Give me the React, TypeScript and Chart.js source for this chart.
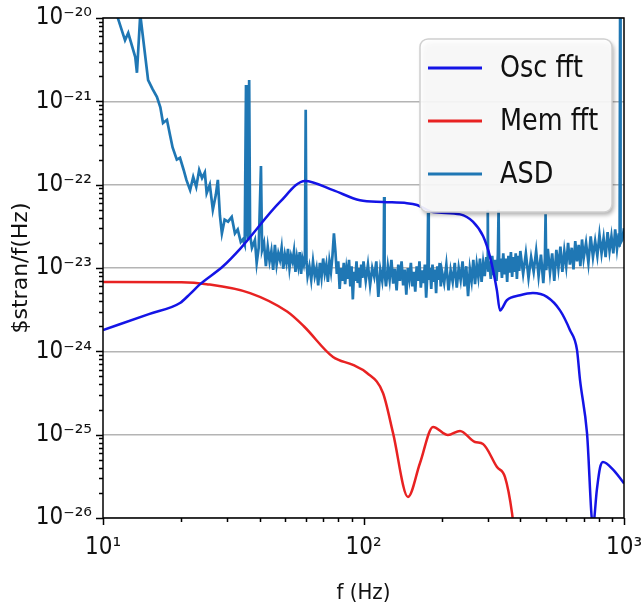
import React, { useEffect, useRef } from 'react';
import { Chart, registerables } from 'chart.js';

Chart.register(...registerables);

// ---- data: [frequency (Hz), amplitude] ----
const oscFft: [number, number][] = [
  [10, 1.8e-24], [15, 2.8e-24], [19.75, 3.8e-24], [21.6, 4.9e-24], [23.6, 6.4e-24],
  [28.9, 1.05e-23], [33.6, 1.7e-23], [47.8, 6.2e-23], [59.6, 1.11e-22], [76.4, 8.6e-23],
  [96.9, 6.5e-23], [118.8, 6.2e-23], [146.9, 6.0e-23], [160.5, 5.7e-23], [185, 4.7e-23],
  [235, 4.4e-23], [263, 3.6e-23], [288, 2.4e-23], [306, 1.36e-23], [325, 5.45e-24],
  [334, 3.1e-24], [355, 4.1e-24], [399, 4.7e-24], [447, 5.0e-24], [506, 4.5e-24],
  [568, 3.1e-24], [620, 1.8e-24], [660, 1.04e-24], [678, 4.5e-25], [721, 1.05e-25],
  [760, 8e-27], [787, 2.2e-26], [809, 4.0e-26], [830, 4.7e-26], [908, 3.8e-26],
  [991, 2.7e-26], [1000, 2.6e-26],
];

const memFft: [number, number][] = [
  [10, 6.8e-24], [20, 6.75e-24], [25, 6.4e-24], [36.7, 5.0e-24], [50.9, 3.0e-24],
  [59, 2.0e-24], [76.4, 8.55e-25], [91.1, 6.86e-25], [103.1, 5.5e-25], [118.8, 3.16e-25],
  [129.8, 1.05e-25], [148.2, 1.79e-26], [164.8, 4.57e-26], [184.9, 1.24e-25], [211, 9.9e-26],
  [234.7, 1.11e-25], [267.9, 8.17e-26], [287.6, 7.73e-26], [325.5, 4.09e-26], [349.3, 3.1e-26],
  [371.6, 1.15e-26], [380, 6e-27],
];

const asd: [number, number][] = [
  [10, 4e-20], [10.8, 2.5e-20], [11.4, 1.0e-20], [12.15, 5.4e-21], [12.5, 6.6e-21],
  [13.3, 3.4e-21], [13.5, 2.2e-21], [13.9, 1.1e-20], [14.9, 1.8e-21], [15.5, 1.4e-21],
  [16.1, 1.13e-21], [16.6, 8.5e-22], [17.0, 5.5e-22], [17.6, 6.0e-22], [18.1, 3.9e-22],
  [18.5, 2.8e-22], [19.2, 2.0e-22], [19.75, 2.1e-22], [20.4, 1.5e-22], [20.9, 1.14e-22],
  [21.6, 8.6e-23], [22.2, 1.24e-22], [22.8, 9.4e-23], [23.4, 1.5e-22], [24.0, 1.2e-22],
  [24.6, 1.4e-22], [25.0, 7.9e-23], [25.7, 1.0e-22], [26.4, 5.0e-23], [27.1, 7.5e-23],
  [27.6, 1.14e-22], [28.1, 4.3e-23], [28.6, 2.6e-23], [29.3, 3.8e-23], [30.2, 3.6e-23],
  [31.2, 4.1e-23], [32.1, 2.6e-23], [32.9, 2.9e-23], [33.8, 2.05e-23], [34.4, 2.2e-23],
  [35.0, 1.9e-23], [35.4, 1.57e-21], [35.7, 2.9e-23], [36.0, 2.2e-23], [36.4, 1.8e-21],
  [36.7, 2.5e-23], [37.3, 1.75e-23], [38.3, 2.17e-23], [38.9, 1.15e-23], [39.6, 1.75e-23],
  [40.4, 1.67e-22], [40.8, 1.64e-23], [41.5, 2.0e-23], [42.2, 1.05e-23], [42.9, 1.8e-23],
  [43.6, 1.2e-23], [44.3, 1.6e-23], [45.0, 9.5e-24], [45.7, 1.9e-23], [46.4, 1.1e-23],
  [47.1, 1.5e-23], [47.8, 1.25e-23], [48.5, 1.75e-23], [49.2, 9.8e-24], [49.9, 1.45e-23],
  [50.6, 1.15e-23], [51.3, 1.7e-23], [52.0, 1.0e-23], [52.7, 1.4e-23], [53.4, 1.2e-23],
  [54.1, 1.6e-23], [54.8, 9.0e-24], [55.5, 1.35e-23], [56.2, 1.05e-23], [56.9, 1.55e-23],
  [57.6, 8.5e-24], [58.3, 1.3e-23], [59.0, 1.1e-23], [59.6, 1.4e-23], [60.0, 7.9e-22],
  [60.4, 1.2e-23], [61, 8.0e-24], [62, 1.05e-23], [63, 7.2e-24], [64, 1.2e-23],
  [65, 8.0e-24], [66, 1.0e-23], [67, 6.2e-24], [68, 1.15e-23], [69, 7.8e-24],
  [70, 1.3e-23], [71, 8.6e-24], [72, 1.1e-23], [73, 6.8e-24], [74, 1.2e-23],
  [75, 9.0e-24], [76, 1.4e-23], [77, 2.6e-23], [78, 1.6e-23], [79, 8.5e-24],
  [80, 1.2e-23], [81, 5.6e-24], [82, 1.0e-23], [83, 7.0e-24], [84, 1.15e-23],
  [85, 6.4e-24], [86, 9.8e-24], [87, 7.4e-24], [88, 1.25e-23], [89, 6.0e-24],
  [90, 1.05e-23], [91, 4.2e-24], [92, 9.0e-24], [93, 7.0e-24], [94, 1.2e-23],
  [95, 6.6e-24], [96, 1.0e-23], [97, 5.8e-24], [98, 1.1e-23], [99, 7.6e-24],
  [100, 1.2e-23], [102, 7.0e-24], [104, 1.1e-23], [106, 6.2e-24], [108, 1.0e-23],
  [110, 7.8e-24], [112, 1.2e-23], [114, 4.5e-24], [116, 9.5e-24], [118, 7.0e-24],
  [119.5, 1.1e-23], [120, 7.1e-23], [120.5, 9.0e-24], [122, 6.0e-24], [124, 1.05e-23],
  [126, 7.2e-24], [128, 1.25e-23], [130, 6.5e-24], [132, 9.8e-24], [134, 5.4e-24],
  [136, 1.1e-23], [138, 7.0e-24], [140, 1.2e-23], [142, 6.2e-24], [144, 9.6e-24],
  [146, 4.8e-24], [148, 1.0e-23], [150, 7.4e-24], [152, 1.15e-23], [154, 6.0e-24],
  [156, 9.0e-24], [158, 5.2e-24], [160, 1.05e-23], [162, 7.0e-24], [164, 1.2e-23],
  [166, 5.8e-24], [168, 9.4e-24], [170, 6.6e-24], [172, 1.1e-23], [174, 4.4e-24],
  [176, 8.8e-24], [177, 4.6e-23], [178, 7.2e-24], [180, 1.0e-23], [182, 5.6e-24],
  [184, 1.1e-23], [186, 6.8e-24], [188, 9.6e-24], [190, 5.0e-24], [192, 1.05e-23],
  [194, 7.2e-24], [196, 1.15e-23], [198, 6.0e-24], [200, 9.2e-24], [204, 6.6e-24],
  [208, 1.1e-23], [212, 5.4e-24], [216, 9.4e-24], [220, 6.8e-24], [224, 1.15e-23],
  [228, 5.8e-24], [232, 1.0e-23], [236, 7.2e-24], [240, 1.2e-23], [244, 6.0e-24],
  [248, 1.05e-23], [252, 4.6e-24], [256, 9.8e-24], [260, 7.0e-24], [264, 1.25e-23],
  [268, 6.4e-24], [272, 1.1e-23], [276, 7.8e-24], [280, 1.3e-23], [284, 6.8e-24],
  [288, 1.15e-23], [292, 8.0e-24], [296, 1.35e-23], [299, 1.0e-23], [300, 5.0e-23],
  [301, 9.0e-24], [304, 1.2e-23], [308, 7.4e-24], [312, 1.4e-23], [316, 8.2e-24],
  [320, 1.25e-23], [324, 7.0e-24], [328, 1.45e-23], [330, 5.0e-23], [332, 9.0e-24],
  [336, 1.3e-23], [340, 7.6e-24], [344, 1.5e-23], [348, 8.4e-24], [352, 1.3e-23],
  [356, 6.8e-24], [360, 1.4e-23], [364, 8.8e-24], [368, 1.55e-23], [372, 7.8e-24],
  [376, 1.35e-23], [380, 9.0e-24], [384, 1.5e-23], [388, 7.4e-24], [392, 1.4e-23],
  [396, 9.2e-24], [400, 1.6e-23], [410, 8.5e-24], [420, 1.5e-23], [430, 7.6e-24],
  [440, 1.35e-23], [450, 9.0e-24], [460, 1.6e-23], [470, 8.0e-24], [480, 1.45e-23],
  [490, 6.6e-24], [497, 1.3e-23], [500, 4.4e-23], [503, 9.4e-24], [510, 1.7e-23],
  [520, 8.8e-24], [530, 1.5e-23], [540, 7.0e-24], [550, 1.65e-23], [560, 1.0e-23],
  [570, 1.8e-23], [580, 9.0e-24], [590, 1.6e-23], [600, 1.05e-23], [610, 2.0e-23],
  [620, 1.1e-23], [630, 1.75e-23], [640, 9.6e-24], [650, 2.1e-23], [660, 1.2e-23],
  [670, 1.9e-23], [680, 1.05e-23], [690, 2.2e-23], [700, 1.3e-23], [715, 2.0e-23],
  [730, 1.15e-23], [745, 2.4e-23], [760, 1.35e-23], [775, 2.1e-23], [790, 1.4e-23],
  [805, 2.5e-23], [820, 1.5e-23], [835, 2.3e-23], [850, 1.35e-23], [865, 2.7e-23],
  [880, 1.6e-23], [895, 2.4e-23], [910, 1.5e-23], [925, 2.9e-23], [940, 1.7e-23],
  [955, 2.6e-23], [962, 1.8e-23], [966, 1.0e-20], [970, 2.0e-23], [985, 2.2e-23],
  [1000, 3.0e-23],
];

const seriesLabels = ['Osc fft', 'Mem fft', 'ASD'];
const seriesColors = ['#1414e6', '#e82222', '#1f77b4'];

const xTickValues = [10, 100, 1000];
const xTickLabels = ['10¹', '10²', '10³'];
const yTickValues = [1e-26, 1e-25, 1e-24, 1e-23, 1e-22, 1e-21, 1e-20];
const yTickLabels = ['10⁻²⁶', '10⁻²⁵', '10⁻²⁴', '10⁻²³', '10⁻²²', '10⁻²¹', '10⁻²⁰'];
const minorMultipliers = [2, 3, 4, 5, 6, 7, 8, 9];

const xTitle = 'f (Hz)';
const yTitle = '$stran/f(Hz)';

const TICK_FONT = "'DejaVu Sans Condensed', 'DejaVu Sans', sans-serif";

const axisDecor = {
  id: 'axisDecor',
  afterDraw(chart: any) {
    const { ctx, chartArea: a, scales } = chart;
    const x = scales.x;
    const y = scales.y;
    ctx.save();
    ctx.strokeStyle = '#000';
    ctx.lineWidth = 1.5;
    ctx.strokeRect(a.left, a.top, a.right - a.left, a.bottom - a.top);
    ctx.beginPath();
    xTickValues.forEach((v) => {
      const px = Math.round(x.getPixelForValue(v)) + 0.5;
      ctx.moveTo(px, a.bottom);
      ctx.lineTo(px, a.bottom + 7);
    });
    xTickValues.slice(0, -1).forEach((d) => {
      minorMultipliers.forEach((m) => {
        const px = Math.round(x.getPixelForValue(d * m)) + 0.5;
        ctx.moveTo(px, a.bottom);
        ctx.lineTo(px, a.bottom + 4);
      });
    });
    yTickValues.forEach((v) => {
      const py = Math.round(y.getPixelForValue(v)) + 0.5;
      ctx.moveTo(a.left, py);
      ctx.lineTo(a.left - 7, py);
    });
    yTickValues.slice(0, -1).forEach((d) => {
      minorMultipliers.forEach((m) => {
        const py = Math.round(y.getPixelForValue(d * m)) + 0.5;
        ctx.moveTo(a.left, py);
        ctx.lineTo(a.left - 4, py);
      });
    });
    ctx.stroke();
    ctx.restore();
  },
};

const boxLegend = {
  id: 'boxLegend',
  afterDraw(chart: any) {
    const { ctx, chartArea: a } = chart;
    const bw = 192;
    const bh = 173;
    const bx = a.right - 12 - bw;
    const by = a.top + 21;
    const r = 8;
    ctx.save();
    const path = () => {
      ctx.beginPath();
      ctx.moveTo(bx + r, by);
      ctx.lineTo(bx + bw - r, by);
      ctx.arcTo(bx + bw, by, bx + bw, by + r, r);
      ctx.lineTo(bx + bw, by + bh - r);
      ctx.arcTo(bx + bw, by + bh, bx + bw - r, by + bh, r);
      ctx.lineTo(bx + r, by + bh);
      ctx.arcTo(bx, by + bh, bx, by + bh - r, r);
      ctx.lineTo(bx, by + r);
      ctx.arcTo(bx, by, bx + r, by, r);
      ctx.closePath();
    };
    ctx.shadowColor = 'rgba(0,0,0,0.35)';
    ctx.shadowBlur = 4;
    ctx.shadowOffsetX = 2;
    ctx.shadowOffsetY = 3;
    path();
    ctx.fillStyle = 'rgba(255,255,255,0.9)';
    ctx.fill();
    ctx.shadowColor = 'transparent';
    ctx.strokeStyle = '#d0d0d0';
    ctx.lineWidth = 1.5;
    path();
    ctx.stroke();
    seriesLabels.forEach((label, i) => {
      const cy = by + 29 + i * 53;
      ctx.strokeStyle = seriesColors[i];
      ctx.lineWidth = 3;
      ctx.beginPath();
      ctx.moveTo(bx + 8, cy);
      ctx.lineTo(bx + 62, cy);
      ctx.stroke();
      ctx.save();
      ctx.translate(bx + 80, cy + 1);
      ctx.scale(0.85, 1);
      ctx.fillStyle = '#111';
      ctx.font = "30px 'DejaVu Sans', sans-serif";
      ctx.textBaseline = 'middle';
      ctx.textAlign = 'left';
      ctx.fillText(label, 0, 0);
      ctx.restore();
    });
    ctx.restore();
  },
};

export default function App() {
  const ref = useRef<HTMLCanvasElement | null>(null);
  useEffect(() => {
    if (!ref.current) return;
    const toPts = (arr: [number, number][]) => arr.map(([x, y]) => ({ x, y }));
    const chart = new Chart(ref.current, {
      type: 'line',
      data: {
        datasets: [
          {
            label: seriesLabels[0],
            data: toPts(oscFft),
            borderColor: seriesColors[0],
            borderWidth: 2.5,
            pointRadius: 0,
            cubicInterpolationMode: 'monotone',
          },
          {
            label: seriesLabels[1],
            data: toPts(memFft),
            borderColor: seriesColors[1],
            borderWidth: 2.5,
            pointRadius: 0,
            cubicInterpolationMode: 'monotone',
          },
          {
            label: seriesLabels[2],
            data: toPts(asd),
            borderColor: seriesColors[2],
            borderWidth: 2.7,
            pointRadius: 0,
            tension: 0,
          },
        ],
      },
      options: {
        animation: false,
        responsive: false,
        devicePixelRatio: 1,
        layout: { padding: { top: 18, right: 17, left: 0, bottom: 0 } },
        plugins: { legend: { display: false }, tooltip: { enabled: false } },
        scales: {
          x: {
            type: 'logarithmic',
            position: 'bottom',
            min: 10,
            max: 1000,
            afterBuildTicks: (s: any) => {
              s.ticks = xTickValues.map((v) => ({ value: v }));
            },
            afterFit: (s: any) => {
              s.height = 91;
              s.paddingLeft = 0;
              s.paddingRight = 0;
            },
            ticks: {
              autoSkip: false,
              maxRotation: 0,
              padding: 15,
              color: '#111',
              font: { family: TICK_FONT, size: 24 },
              callback: (_v: any, i: number) => xTickLabels[i],
            },
            grid: { display: false, drawTicks: false },
            border: { display: false },
            title: {
              display: true,
              text: xTitle,
              color: '#111',
              font: { family: TICK_FONT, size: 22 },
              padding: { top: 0, bottom: 3 },
            },
          },
          y: {
            type: 'logarithmic',
            position: 'left',
            min: 1e-26,
            max: 1e-20,
            afterBuildTicks: (s: any) => {
              s.ticks = yTickValues.map((v) => ({ value: v }));
            },
            afterFit: (s: any) => {
              s.width = 103;
              s.paddingTop = 0;
              s.paddingBottom = 0;
            },
            ticks: {
              autoSkip: false,
              padding: 11,
              color: '#111',
              font: { family: TICK_FONT, size: 24 },
              callback: (_v: any, i: number) => yTickLabels[i],
            },
            grid: { drawTicks: false, color: '#b4b4b4', lineWidth: 1.5 },
            border: { display: false },
            title: {
              display: true,
              text: yTitle,
              color: '#111',
              font: { family: "'DejaVu Sans', sans-serif", size: 22 },
              padding: { top: 8, bottom: 0 },
            },
          },
        },
      },
      plugins: [axisDecor, boxLegend],
    } as any);
    return () => chart.destroy();
  }, []);

  return (
    <div style={{ position: 'fixed', left: 0, top: 0, width: 641, height: 609, background: '#fff' }}>
      <canvas ref={ref} width={641} height={609} style={{ display: 'block' }} />
    </div>
  );
}
